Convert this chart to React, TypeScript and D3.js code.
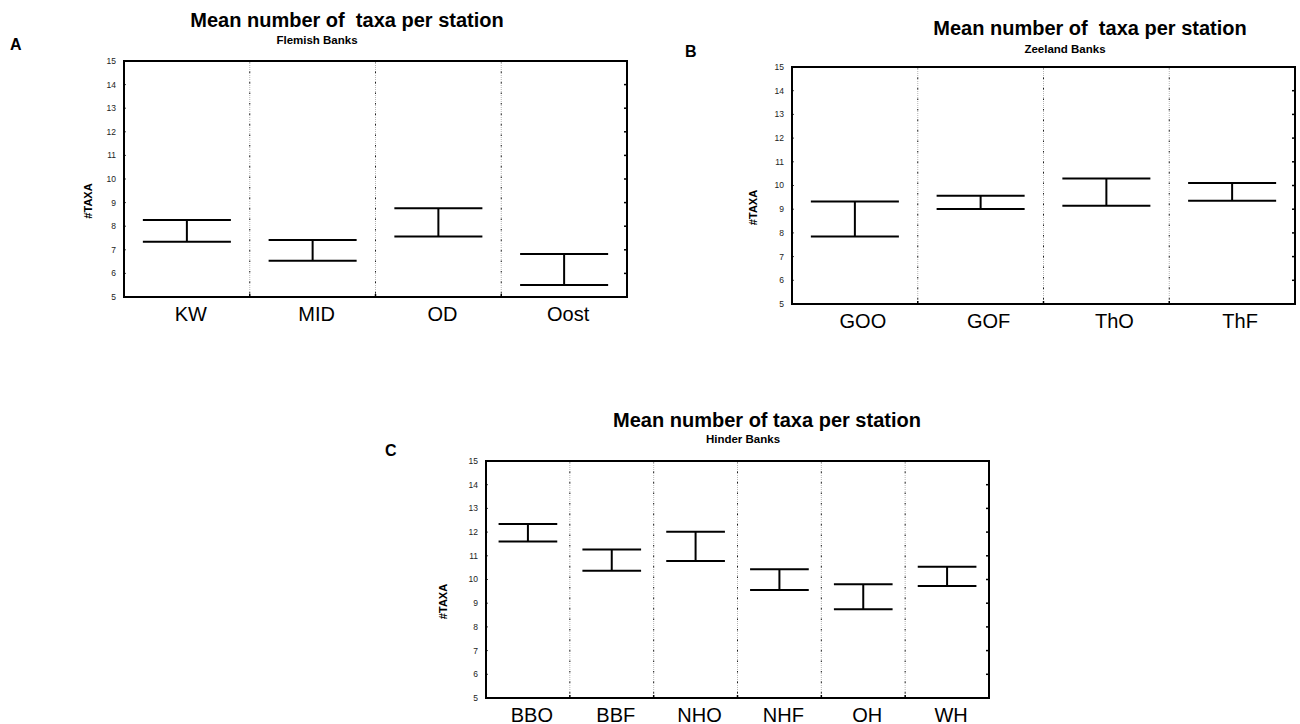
import React from 'react';
import * as d3 from 'd3';

// Flemish Banks
const flemishStations = ['KW', 'MID', 'OD', 'Oost'];
const flemishLow = [7.34, 6.54, 7.56, 5.51];
const flemishHigh = [8.26, 7.42, 8.76, 6.82];

// Zeeland Banks
const zeelandStations = ['GOO', 'GOF', 'ThO', 'ThF'];
const zeelandLow = [7.85, 9.01, 9.15, 9.36];
const zeelandHigh = [9.32, 9.57, 10.3, 10.11];

// Hinder Banks
const hinderStations = ['BBO', 'BBF', 'NHO', 'NHF', 'OH', 'WH'];
const hinderLow = [11.6, 10.37, 10.78, 9.56, 8.74, 9.73];
const hinderHigh = [12.34, 11.27, 12.02, 10.43, 9.8, 10.54];

const yTickValues = [5, 6, 7, 8, 9, 10, 11, 12, 13, 14, 15];
const yDomain = [5, 15];

const FONT = '"Liberation Sans", Arial, Helvetica, sans-serif';

type PanelProps = {
  letter: string;
  title: string;
  subtitle: string;
  stations: string[];
  low: number[];
  high: number[];
  left: number;
  top: number;
  width: number;
  height: number;
  titleX: number;
  titleY: number;
  subX: number;
  subY: number;
  axisLabelX: number;
  letterX: number;
  letterY: number;
  labelShift: number;
};

const Panel = (p: PanelProps) => {
  const x = d3
    .scaleBand()
    .domain(p.stations)
    .range([p.left, p.left + p.width])
    .paddingInner(0)
    .paddingOuter(0);
  const y = d3
    .scaleLinear()
    .domain(yDomain)
    .range([p.top + p.height, p.top]);

  const bottom = p.top + p.height;
  const right = p.left + p.width;
  const capW = x.bandwidth() * 0.7;

  return (
    <g>
      {/* panel letter */}
      <text x={p.letterX} y={p.letterY} fontFamily={FONT} fontWeight="bold" fontSize={16}>
        {p.letter}
      </text>
      <text x={p.titleX} y={p.titleY} textAnchor="middle" fontFamily={FONT} fontWeight="bold" fontSize={20} style={{ whiteSpace: 'pre' }}>
        {p.title}
      </text>
      <text x={p.subX} y={p.subY} textAnchor="middle" fontFamily={FONT} fontWeight="bold" fontSize={11.5}>
        {p.subtitle}
      </text>

      {/* separators between stations */}
      {p.stations.slice(1).map((s) => (
        <g key={'sep' + s}>
          <line x1={x(s)} x2={x(s)} y1={p.top} y2={bottom} stroke="#b5b5b5" strokeWidth={1} strokeDasharray="1 1" />
          <line x1={x(s)} x2={x(s)} y1={p.top} y2={bottom} stroke="#222" strokeWidth={1} strokeDasharray="1.5 9" />
          <line x1={x(s)} x2={x(s)} y1={bottom - 3} y2={bottom} stroke="#000" strokeWidth={1.5} />
        </g>
      ))}

      {/* y ticks and labels */}
      {yTickValues.map((t) => (
        <g key={'t' + t}>
          <text x={p.left - 8} y={y(t)} dy="0.35em" textAnchor="end" fontFamily={FONT} fontSize={8.5} fill="#222">
            {t}
          </text>
          <line x1={p.left} x2={p.left + 2} y1={y(t)} y2={y(t)} stroke="#444" strokeWidth={1} />
          <line x1={right - 3} x2={right} y1={y(t)} y2={y(t)} stroke="#000" strokeWidth={1.5} />
        </g>
      ))}

      {/* frame */}
      <rect x={p.left} y={p.top} width={p.width} height={p.height} fill="none" stroke="#000" strokeWidth={2} />

      <text
        transform={`translate(${p.axisLabelX},${p.top + p.height / 2 + 22}) rotate(-90)`}
        textAnchor="middle"
        dy="0.35em"
        fontFamily={FONT}
        fontWeight="bold"
        fontSize={11}
      >
        #TAXA
      </text>

      {/* error bars */}
      {p.stations.map((s, i) => {
        const cx = (x(s) as number) + x.bandwidth() / 2;
        return (
          <g key={'e' + s} stroke="#000" strokeWidth={2}>
            <line x1={cx - capW / 2} x2={cx + capW / 2} y1={y(p.high[i])} y2={y(p.high[i])} />
            <line x1={cx - capW / 2} x2={cx + capW / 2} y1={y(p.low[i])} y2={y(p.low[i])} />
            <line x1={cx} x2={cx} y1={y(p.high[i])} y2={y(p.low[i])} />
          </g>
        );
      })}

      {/* station labels */}
      {p.stations.map((s) => (
        <text
          key={'l' + s}
          x={(x(s) as number) + x.bandwidth() / 2 + p.labelShift}
          y={bottom + 23.5}
          textAnchor="middle"
          fontFamily={FONT}
          fontSize={20}
        >
          {s}
        </text>
      ))}
    </g>
  );
};

export default function App() {
  return (
    <svg
      width={1300}
      height={724}
      style={{ position: 'absolute', left: 0, top: 0, background: '#fff', display: 'block' }}
    >
      <Panel
        letter="A"
        title="Mean number of  taxa per station"
        subtitle="Flemish Banks"
        stations={flemishStations}
        low={flemishLow}
        high={flemishHigh}
        left={124}
        top={61}
        width={503}
        height={236}
        titleX={347}
        titleY={27}
        subX={317}
        subY={44}
        axisLabelX={88}
        letterX={10}
        letterY={50}
        labelShift={4}
      />
      <Panel
        letter="B"
        title="Mean number of  taxa per station"
        subtitle="Zeeland Banks"
        stations={zeelandStations}
        low={zeelandLow}
        high={zeelandHigh}
        left={792}
        top={67}
        width={503}
        height={237}
        titleX={1090}
        titleY={35}
        subX={1065}
        subY={53}
        axisLabelX={753}
        letterX={685}
        letterY={57}
        labelShift={8}
      />
      <Panel
        letter="C"
        title="Mean number of taxa per station"
        subtitle="Hinder Banks"
        stations={hinderStations}
        low={hinderLow}
        high={hinderHigh}
        left={486}
        top={461}
        width={503}
        height={237}
        titleX={767}
        titleY={427}
        subX={743}
        subY={443}
        axisLabelX={443}
        letterX={385}
        letterY={456}
        labelShift={4}
      />
    </svg>
  );
}
